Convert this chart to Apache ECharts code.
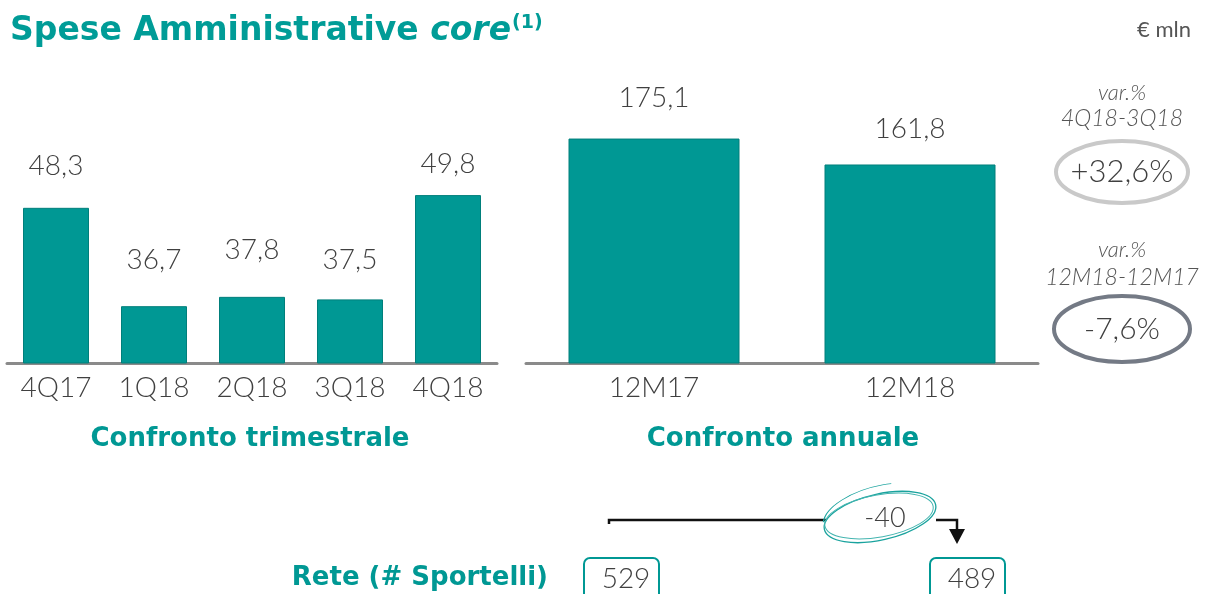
<!DOCTYPE html>
<html><head><meta charset="utf-8">
<script src="https://cdn.jsdelivr.net/npm/echarts@6/dist/echarts.min.js"></script>
<style>html,body{margin:0;padding:0;background:#fff}#c{width:1205px;height:594px}</style>
</head><body><div id="c"></div>
<script>
// ---- data ----
const quarterCats = ['4Q17', '1Q18', '2Q18', '3Q18', '4Q18'];
const quarterVals = [48.3, 36.7, 37.8, 37.5, 49.8];
const annualCats = ['12M17', '12M18'];
const annualVals = [175.1, 161.8];
const varQuarter = '+32,6%';
const varAnnual = '-7,6%';
const branchesBefore = 529;
const branchesAfter = 489;
const branchesDelta = -40;

const TEAL = '#009894';
const TEXT = '#404040';
const FONT = 'Lato, "Open Sans", sans-serif';
const BOLD = '"DejaVu Sans", Lato, sans-serif';
const fmt = v => v.toFixed(1).replace('.', ',');

const qDist = [28, 32, 33, 25, 17];
const aDist = [27, 22];

const chart = echarts.init(document.getElementById('c'));
const barStyle = { color: TEAL, borderColor: '#007f7b', borderWidth: 1 };
const axisLabel = { color: TEXT, fontSize: 28, fontFamily: FONT, fontWeight: 300, margin: 11 };

chart.setOption({
  animation: false,
  textStyle: { fontFamily: FONT },
  grid: [
    { left: 7, width: 490, top: 151, bottom: 231 },
    { left: 526, width: 512, top: 129, bottom: 231 }
  ],
  xAxis: [
    { gridIndex: 0, type: 'category', data: quarterCats,
      axisLine: { lineStyle: { color: '#8a8a8a', width: 3 } }, axisTick: { show: false }, axisLabel },
    { gridIndex: 1, type: 'category', data: annualCats,
      axisLine: { lineStyle: { color: '#8a8a8a', width: 3 } }, axisTick: { show: false }, axisLabel }
  ],
  yAxis: [
    { gridIndex: 0, type: 'value', min: 30, max: 55, show: false },
    { gridIndex: 1, type: 'value', min: 60, max: 180, show: false }
  ],
  series: [
    { type: 'bar', xAxisIndex: 0, yAxisIndex: 0, barWidth: 66, itemStyle: barStyle,
      data: quarterVals.map((v, i) => ({ value: v, label: { distance: qDist[i] } })),
      label: { show: true, position: 'top', formatter: p => fmt(p.value), color: TEXT, fontSize: 28, fontWeight: 300, fontFamily: FONT } },
    { type: 'bar', xAxisIndex: 1, yAxisIndex: 1, barWidth: 171, itemStyle: barStyle,
      data: annualVals.map((v, i) => ({ value: v, label: { distance: aDist[i] } })),
      label: { show: true, position: 'top', formatter: p => fmt(p.value), color: TEXT, fontSize: 28, fontWeight: 300, fontFamily: FONT } }
  ],
  graphic: [
    // title
    { type: 'text', left: 10, top: 15, style: {
        text: '{a|Spese Amministrative }{b|core}', rich: {
          a: { fontSize: 33, fontWeight: 'bold', fill: '#009C97', fontFamily: BOLD },
          b: { fontSize: 33, fontWeight: 'bold', fontStyle: 'italic', fill: '#009C97', fontFamily: BOLD } } } },
    { type: 'text', x: 512, y: 14, style: { text: '(1)', fontSize: 19, fontWeight: 'bold', fill: '#009C97', fontFamily: BOLD } },
    { type: 'text', right: 14, top: 19, style: { text: '€ mln', fontSize: 22, fill: '#555', fontFamily: FONT } },
    // subtitles
    { type: 'text', x: 250, y: 439, style: { text: 'Confronto trimestrale', align: 'center', verticalAlign: 'middle', fontSize: 26, fontWeight: 'bold', fill: TEAL, fontFamily: BOLD } },
    { type: 'text', x: 783, y: 439, style: { text: 'Confronto annuale', align: 'center', verticalAlign: 'middle', fontSize: 26, fontWeight: 'bold', fill: TEAL, fontFamily: BOLD } },
    // variations
    { type: 'text', x: 1122, y: 93, style: { text: 'var.%', align: 'center', verticalAlign: 'middle', fontSize: 22, fontStyle: 'italic', fontWeight: 300, fill: '#555', fontFamily: FONT } },
    { type: 'text', x: 1122, y: 119, style: { text: '4Q18-3Q18', align: 'center', verticalAlign: 'middle', fontSize: 23, fontStyle: 'italic', fontWeight: 300, fill: '#555', fontFamily: FONT } },
    { type: 'ellipse', shape: { cx: 1122, cy: 172, rx: 66, ry: 31 }, style: { fill: 'none', stroke: '#c9c9c9', lineWidth: 4 } },
    { type: 'text', x: 1122, y: 172, style: { text: varQuarter, align: 'center', verticalAlign: 'middle', fontSize: 31, fontWeight: 300, fill: TEXT, fontFamily: FONT } },
    { type: 'text', x: 1122, y: 250, style: { text: 'var.%', align: 'center', verticalAlign: 'middle', fontSize: 22, fontStyle: 'italic', fontWeight: 300, fill: '#555', fontFamily: FONT } },
    { type: 'text', x: 1122, y: 278, style: { text: '12M18-12M17', align: 'center', verticalAlign: 'middle', fontSize: 23, fontStyle: 'italic', fontWeight: 300, fill: '#555', fontFamily: FONT } },
    { type: 'ellipse', shape: { cx: 1122, cy: 329, rx: 68, ry: 33 }, style: { fill: 'none', stroke: '#747a85', lineWidth: 4 } },
    { type: 'text', x: 1122, y: 329, style: { text: varAnnual, align: 'center', verticalAlign: 'middle', fontSize: 30, fontWeight: 300, fill: TEXT, fontFamily: FONT } },
    // branches
    { type: 'text', x: 548, y: 578, style: { text: 'Rete (# Sportelli)', align: 'right', verticalAlign: 'middle', fontSize: 26, fontWeight: 'bold', fill: TEAL, fontFamily: BOLD } },
    { type: 'rect', shape: { x: 584, y: 558, width: 75, height: 50, r: 6 }, style: { fill: '#fff', stroke: TEAL, lineWidth: 2 } },
    { type: 'text', x: 626, y: 579, style: { text: String(branchesBefore), align: 'center', verticalAlign: 'middle', fontSize: 28, fontWeight: 300, fill: TEXT, fontFamily: FONT } },
    { type: 'rect', shape: { x: 930, y: 558, width: 75, height: 50, r: 6 }, style: { fill: '#fff', stroke: TEAL, lineWidth: 2 } },
    { type: 'text', x: 972, y: 579, style: { text: String(branchesAfter), align: 'center', verticalAlign: 'middle', fontSize: 28, fontWeight: 300, fill: TEXT, fontFamily: FONT } },
    { type: 'polyline', shape: { points: [[609, 524], [609, 520], [826, 520]] }, style: { stroke: '#111', lineWidth: 2.5, fill: 'none' } },
    { type: 'polyline', shape: { points: [[936, 520], [957, 520], [957, 530]] }, style: { stroke: '#111', lineWidth: 2.5, fill: 'none' } },
    { type: 'polygon', shape: { points: [[949, 529], [965, 529], [957, 544]] }, style: { fill: '#111' } },
    { type: 'text', x: 885, y: 518, style: { text: String(branchesDelta), align: 'center', verticalAlign: 'middle', fontSize: 27, fontWeight: 300, fill: TEXT, fontFamily: FONT } },
    { type: 'ellipse', x: 880, y: 517, rotation: 0.22, shape: { cx: 0, cy: 0, rx: 57, ry: 23 }, style: { fill: 'none', stroke: '#1aa39e', lineWidth: 1.3 } },
    { type: 'ellipse', x: 879, y: 516, rotation: 0.18, shape: { cx: 0, cy: 0, rx: 55, ry: 21 }, style: { fill: 'none', stroke: '#44b5b0', lineWidth: 1 } },
    { type: 'arc', x: 880, y: 512, rotation: 0.25, shape: { cx: 0, cy: 0, r: 1, startAngle: Math.PI * 1.05, endAngle: Math.PI * 1.6 }, scaleX: 58, scaleY: 26, style: { stroke: '#1aa39e', lineWidth: 1 / 40, fill: 'none' } }
  ]
});
</script></body></html>
